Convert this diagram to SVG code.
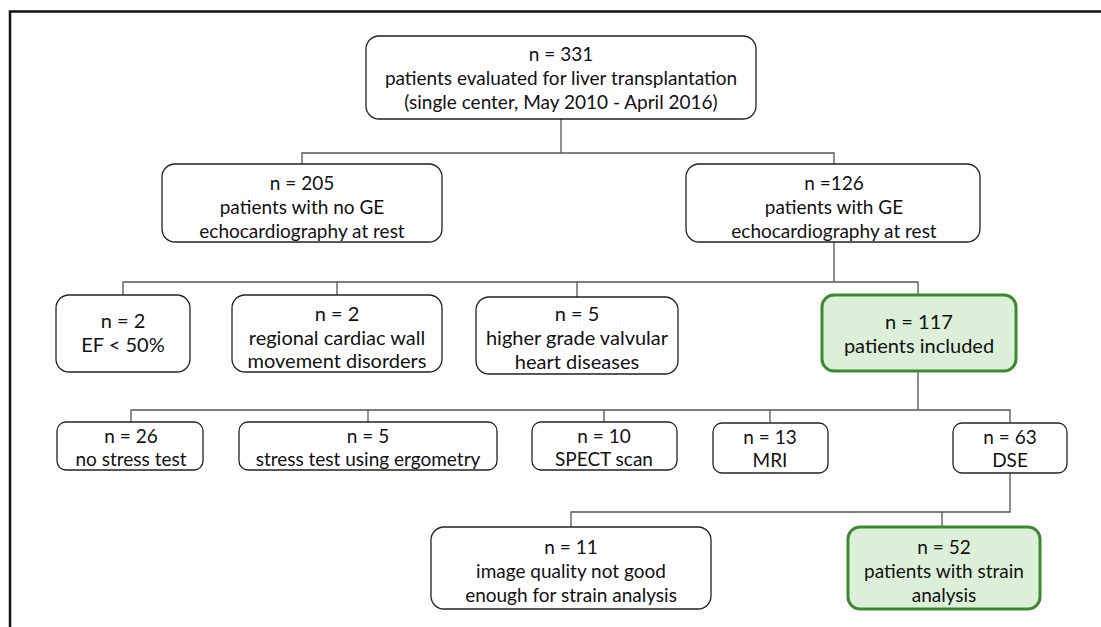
<svg xmlns="http://www.w3.org/2000/svg" width="1101" height="627" viewBox="0 0 1101 627">
<style>
.box{fill:#fff;stroke:#222;stroke-width:1.3}
.inc{fill:#dcefd8;stroke:#3a8b2f;stroke-width:3}
.t{font-family:Lato,"Open Sans","Liberation Sans",sans-serif;font-size:19px;fill:#111;text-anchor:middle}
.l{font-size:20px}
.c{fill:none;stroke:#555;stroke-width:1.3}
</style>
<rect width="1101" height="627" fill="#fff"/>
<path d="M10,627 V11.5 H1101" fill="none" stroke="#111" stroke-width="2.5"/>
<g id="connectors">
<path class="c" d="M561,119 V153 M302,164 V153 H834 V164"/>
<path class="c" d="M834,242 V282 M123,295 V282 H918 V295 M337,295 V282 M577,297 V282"/>
<path class="c" d="M918,370 V410 M131,422 V410 H1010 V422 M368,422 V410 M604,422 V410 M770,422 V410"/>
<path class="c" d="M1010,473 V512 H571 V527 M942,512 V527"/>
</g>
<g id="n331"><rect class="box" x="366" y="36" width="390" height="83" rx="13"/>
<text class="t" x="561" y="61">n = 331</text><text class="t" x="561" y="85">patients evaluated for liver transplantation</text><text class="t" x="561" y="109">(single center, May 2010 - April 2016)</text></g>
<g id="n205"><rect class="box" x="162" y="164" width="280" height="78" rx="13"/>
<text class="t" x="302" y="190">n = 205</text><text class="t" x="302" y="214">patients with no GE</text><text class="t" x="302" y="238">echocardiography at rest</text></g>
<g id="n126"><rect class="box" x="686" y="164" width="294" height="78" rx="13"/>
<text class="t" x="834" y="190">n =126</text><text class="t" x="834" y="214">patients with GE</text><text class="t" x="834" y="238">echocardiography at rest</text></g>
<g id="ef"><rect class="box" x="56" y="295" width="134" height="77" rx="13"/>
<text class="t l" x="123" y="328">n = 2</text><text class="t l" x="123" y="352">EF &lt; 50%</text></g>
<g id="wall"><rect class="box" x="232" y="295" width="210" height="77" rx="13"/>
<text class="t l" x="337" y="321">n = 2</text><text class="t l" x="337" y="345">regional cardiac wall</text><text class="t l" x="337" y="368">movement disorders</text></g>
<g id="valv"><rect class="box" x="476" y="297" width="202" height="77" rx="13"/>
<text class="t l" x="577" y="321">n = 5</text><text class="t l" x="577" y="345">higher grade valvular</text><text class="t l" x="577" y="369">heart diseases</text></g>
<g id="n117"><rect class="inc" x="822" y="295" width="194" height="76" rx="12"/>
<text class="t l" x="919" y="329">n = 117</text><text class="t l" x="919" y="353">patients included</text></g>
<g id="n26"><rect class="box" x="57" y="422" width="146" height="48" rx="9"/>
<text class="t" x="131" y="443">n = 26</text><text class="t" x="131" y="466">no stress test</text></g>
<g id="ergo"><rect class="box" x="239" y="422" width="258" height="48" rx="9"/>
<text class="t" x="368" y="443">n = 5</text><text class="t" x="368" y="466">stress test using ergometry</text></g>
<g id="spect"><rect class="box" x="532" y="422" width="145" height="48" rx="9"/>
<text class="t" x="604" y="443">n = 10</text><text class="t" x="604" y="466">SPECT scan</text></g>
<g id="mri"><rect class="box" x="713" y="423" width="115" height="50" rx="9"/>
<text class="t" x="770" y="444">n = 13</text><text class="t" x="770" y="467">MRI</text></g>
<g id="dse"><rect class="box" x="953" y="423" width="114" height="50" rx="9"/>
<text class="t" x="1010" y="444">n = 63</text><text class="t" x="1010" y="467">DSE</text></g>
<g id="n11"><rect class="box" x="431" y="527" width="280" height="82" rx="13"/>
<text class="t" x="571" y="554">n = 11</text><text class="t" x="571" y="578">image quality not good</text><text class="t" x="571" y="602">enough for strain analysis</text></g>
<g id="n52"><rect class="inc" x="848" y="527" width="192" height="82" rx="12"/>
<text class="t" x="944" y="554">n = 52</text><text class="t" x="944" y="578">patients with strain</text><text class="t" x="944" y="602">analysis</text></g>
</svg>
